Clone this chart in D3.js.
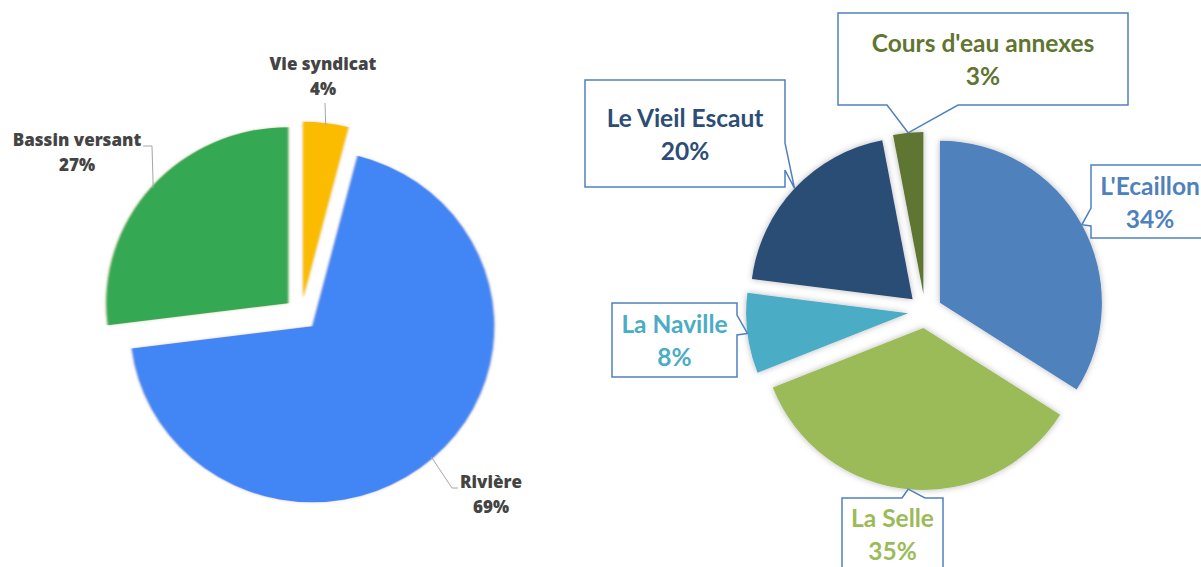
<!DOCTYPE html>
<html>
<head>
<meta charset="utf-8">
<script src="https://cdn.jsdelivr.net/npm/d3@7"></script>
<style>
  html, body { margin: 0; padding: 0; background: #fff; }
  svg { display: block; }
</style>
</head>
<body>
<svg id="chart" width="1201" height="567"></svg>
<script>
// ---------- Data ----------
const leftCategories = ["Vie syndicat", "Rivière", "Bassin versant"];
const leftValues = [4, 69, 27];
const leftLabels = ["4%", "69%", "27%"];
const leftColors = ["#FBBC04", "#4285F4", "#34A853"];

const rightCategories = ["L'Ecaillon", "La Selle", "La Naville", "Le Vieil Escaut", "Cours d'eau annexes"];
const rightValues = [34, 35, 8, 20, 3];
const rightLabels = ["34%", "35%", "8%", "20%", "3%"];
const rightColors = ["#4F81BD", "#9BBB59", "#4BACC6", "#2C4D75", "#5F7530"];

// ---------- Setup ----------
const svg = d3.select("#chart");
const defs = svg.append("defs");
const f1 = defs.append("filter").attr("id", "shadowR").attr("x", "-20%").attr("y", "-20%").attr("width", "140%").attr("height", "140%");
f1.append("feDropShadow").attr("dx", 0).attr("dy", 0).attr("stdDeviation", 3).attr("flood-color", "#000").attr("flood-opacity", 0.28);
const f2 = defs.append("filter").attr("id", "shadowL").attr("x", "-20%").attr("y", "-20%").attr("width", "140%").attr("height", "140%");
f2.append("feGaussianBlur").attr("in", "SourceGraphic").attr("stdDeviation", 0.8).attr("result", "b");
f2.append("feDropShadow").attr("in", "b").attr("dx", 0).attr("dy", 0).attr("stdDeviation", 1.5).attr("flood-color", "#a08050").attr("flood-opacity", 0.35);

const pie = d3.pie().sort(null).value(d => d).startAngle(0).endAngle(2 * Math.PI);
const dirX = a => Math.sin(a), dirY = a => -Math.cos(a);

// ---------- Left pie ----------
const L = { cx: 301, cy: 314, r: 182, sy: 0.967, explode: 17 };
const leftArcs = pie(leftValues);
const arcL = d3.arc().innerRadius(0).outerRadius(L.r);
const gL = svg.append("g").attr("transform", `translate(${L.cx},${L.cy}) scale(1,${L.sy})`);
gL.selectAll("path.slice").data(leftArcs).join("path")
  .attr("class", "slice")
  .attr("d", arcL)
  .attr("fill", (d, i) => leftColors[i])
  .attr("filter", "url(#shadowL)")
  .attr("transform", d => {
    const m = (d.startAngle + d.endAngle) / 2;
    return `translate(${L.explode * dirX(m)},${L.explode * dirY(m)})`;
  });

function leftEdgePoint(d, extra) {
  const m = (d.startAngle + d.endAngle) / 2;
  const rr = L.r + L.explode + (extra || 0);
  return [L.cx + rr * dirX(m), L.cy + rr * dirY(m) * L.sy];
}
// leader lines (elbows are layout constants)
const leftLeaders = [
  { elbow: null, end: [325, 103] },
  { elbow: [452, 488], end: [458, 488] },
  { elbow: [152, 146], end: [143, 146] }
];
const leftText = [
  { x: 323, y: 70 },
  { x: 491, y: 488 },
  { x: 77, y: 146 }
];
leftArcs.forEach((d, i) => {
  const p0 = leftEdgePoint(d, -2);
  const lead = leftLeaders[i];
  const pts = [p0];
  if (lead.elbow) pts.push(lead.elbow);
  pts.push(lead.end);
  svg.append("path")
    .attr("d", d3.line()(pts))
    .attr("fill", "none").attr("stroke", "#a6a6a6").attr("stroke-width", 1);
  const t = svg.append("text")
    .attr("x", leftText[i].x).attr("y", leftText[i].y)
    .attr("text-anchor", "middle")
    .attr("font-family", "'Open Sans', Lato, sans-serif")
    .attr("font-weight", "800").attr("font-size", 17)
    .attr("fill", "#444444");
  t.append("tspan").attr("x", leftText[i].x).text(leftCategories[i]);
  t.append("tspan").attr("x", leftText[i].x).attr("dy", 25).text(leftLabels[i]);
});

// ---------- Right pie ----------
const R = { cx: 925, cy: 311, r: 162, explode: 17 };
const rightArcs = pie(rightValues);
const arcR = d3.arc().innerRadius(0).outerRadius(R.r);
const gR = svg.append("g").attr("transform", `translate(${R.cx},${R.cy})`);
gR.selectAll("path.slice").data(rightArcs).join("path")
  .attr("class", "slice")
  .attr("d", arcR)
  .attr("fill", (d, i) => rightColors[i])
  .attr("filter", "url(#shadowR)")
  .attr("transform", d => {
    const m = (d.startAngle + d.endAngle) / 2;
    return `translate(${R.explode * dirX(m)},${R.explode * dirY(m)})`;
  });

// callout boxes: position + pointer side and base span (layout constants)
const boxes = [
  { x: 1091, y: 165, w: 118, h: 73, side: "left", b1: 43, b2: 61 },
  { x: 842, y: 498, w: 101, h: 72, side: "top", b1: 60, b2: 83 },
  { x: 612, y: 303, w: 125, h: 74, side: "right", b1: 12, b2: 32 },
  { x: 585, y: 80, w: 200, h: 107, side: "right", b1: 63, b2: 90 },
  { x: 838, y: 13, w: 290, h: 92, side: "bottom", b1: 49, b2: 120 }
];
function calloutPath(b, tip) {
  const x0 = b.x, y0 = b.y, x1 = b.x + b.w, y1 = b.y + b.h;
  let pts;
  if (b.side === "left") pts = [[x0, y0], [x1, y0], [x1, y1], [x0, y1], [x0, y0 + b.b2], tip, [x0, y0 + b.b1]];
  else if (b.side === "right") pts = [[x0, y0], [x1, y0], [x1, y0 + b.b1], tip, [x1, y0 + b.b2], [x1, y1], [x0, y1]];
  else if (b.side === "top") pts = [[x0, y0], [x0 + b.b1, y0], tip, [x0 + b.b2, y0], [x1, y0], [x1, y1], [x0, y1]];
  else pts = [[x0, y0], [x1, y0], [x1, y1], [x0 + b.b2, y1], tip, [x0 + b.b1, y1], [x0, y1]];
  return d3.line()(pts) + "Z";
}
rightArcs.forEach((d, i) => {
  const m = (d.startAngle + d.endAngle) / 2;
  const rr = R.r + R.explode;
  const tip = [R.cx + rr * dirX(m), R.cy + rr * dirY(m)];
  const b = boxes[i];
  svg.append("path")
    .attr("d", calloutPath(b, tip))
    .attr("fill", "#fff").attr("stroke", "#4F81BD").attr("stroke-width", 1.5)
    .attr("stroke-linejoin", "miter");
  const cx = b.x + b.w / 2, cy = b.y + b.h / 2;
  const t = svg.append("text")
    .attr("text-anchor", "middle")
    .attr("font-family", "Lato, 'Open Sans', sans-serif")
    .attr("font-weight", "bold").attr("font-size", 24.5)
    .attr("fill", rightColors[i]);
  t.append("tspan").attr("x", cx).attr("y", cy - 7).text(rightCategories[i]);
  t.append("tspan").attr("x", cx).attr("y", cy + 26).text(rightLabels[i]);
});
</script>
</body>
</html>
